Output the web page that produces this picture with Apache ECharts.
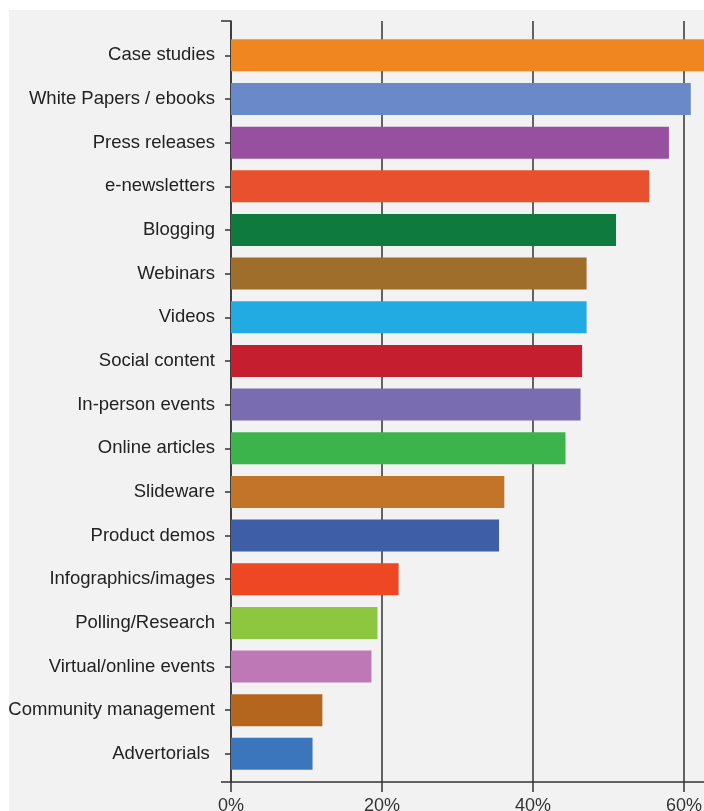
<!DOCTYPE html>
<html>
<head>
<meta charset="utf-8">
<script src="https://cdn.jsdelivr.net/npm/echarts@6/dist/echarts.min.js"></script>
<style>
  html, body { margin: 0; padding: 0; background: #ffffff; }
  #chart { width: 704px; height: 811px; }
</style>
</head>
<body>
<div id="chart"></div>
<script>
const categories = [
  "Case studies", "White Papers / ebooks", "Press releases", "e-newsletters",
  "Blogging", "Webinars", "Videos", "Social content", "In-person events",
  "Online articles", "Slideware", "Product demos", "Infographics/images",
  "Polling/Research", "Virtual/online events", "Community management", "Advertorials "
];
const values = [63.5, 60.9, 58.0, 55.4, 51.0, 47.1, 47.1, 46.5, 46.3, 44.3, 36.2, 35.5, 22.2, 19.4, 18.6, 12.1, 10.8];
const barColors = [
  "#F0861F", "#6A89C8", "#974FA0", "#E8502E", "#0E7A3E", "#9E6E2A", "#22ABE2",
  "#C41E2F", "#7A6CB1", "#3BB54B", "#C27528", "#3F5EA8", "#EE4723", "#8DC63F",
  "#BE78B5", "#B4651E", "#3B76BC"
];
const tickValues = [0, 20, 40, 60];

const chart = echarts.init(document.getElementById('chart'), null, { renderer: 'canvas' });
const pxPerUnit = 7.55;
const xMax = 70;
const font = "'Liberation Sans', Arial, sans-serif";

chart.setOption({
  backgroundColor: '#ffffff',
  animation: false,
  graphic: [{
    type: 'rect', left: 9, top: 10, z: -10,
    shape: { width: 700, height: 810 },
    style: { fill: '#f2f2f2' }
  }],
  grid: [
    { left: 231, top: 21, width: pxPerUnit * xMax, height: 761, outerBoundsMode: 'none', containLabel: false },
    { left: 231, top: 33.5, width: pxPerUnit * xMax, height: 742.2, outerBoundsMode: 'none', containLabel: false }
  ],
  xAxis: [
    {
      gridIndex: 0, type: 'value', min: 0, max: xMax, interval: 20, position: 'bottom',
      axisLine: { show: true, lineStyle: { color: '#333', width: 1.5 } },
      axisTick: { show: true, length: 10, lineStyle: { color: '#333', width: 1.5 } },
      splitLine: { show: true, lineStyle: { color: '#333', width: 1.5 } },
      axisLabel: {
        show: true, fontSize: 18, color: '#333', fontFamily: font, margin: 15,
        formatter: function (v) { return tickValues.indexOf(v) >= 0 ? v + '%' : ''; }
      }
    },
    { gridIndex: 1, type: 'value', min: 0, max: xMax, show: false }
  ],
  yAxis: [
    {
      gridIndex: 0, type: 'value', min: 0, max: 1, interval: 1,
      axisLine: { show: true, lineStyle: { color: '#333', width: 1.5 } },
      axisTick: { show: true, length: 10, lineStyle: { color: '#333', width: 1.5 } },
      axisLabel: { show: false },
      splitLine: { show: false }
    },
    {
      gridIndex: 1, type: 'category', inverse: true, data: categories, offset: 2,
      axisLine: { show: false },
      axisTick: { show: true, length: 6, alignWithLabel: true, lineStyle: { color: '#333', width: 1.5 } },
      axisLabel: { show: true, fontSize: 18.5, color: '#222', fontFamily: font, margin: 14, interval: 0 },
      splitLine: { show: false }
    }
  ],
  series: [{
    type: 'bar', xAxisIndex: 1, yAxisIndex: 1, barWidth: 32,
    data: values.map(function (v, i) {
      return { value: v, itemStyle: { color: barColors[i] } };
    })
  }]
});
</script>
</body>
</html>
